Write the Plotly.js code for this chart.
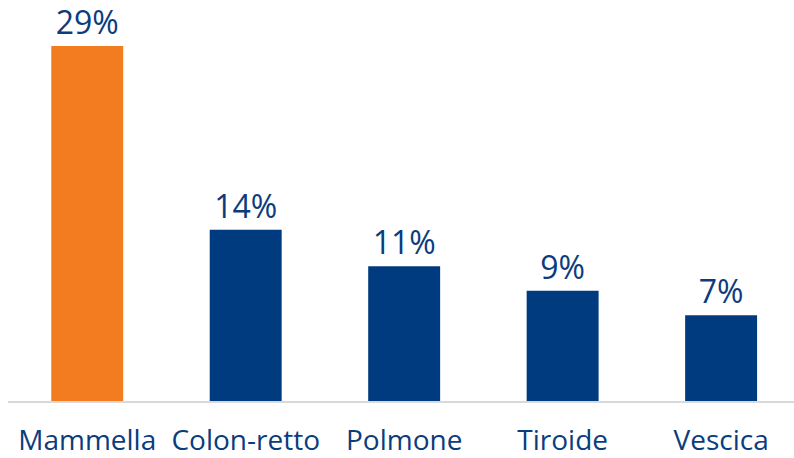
<!DOCTYPE html>
<html>
<head>
<meta charset="utf-8">
<script src="https://cdn.plot.ly/plotly-3.0.1.min.js"></script>
<style>html,body{margin:0;padding:0;background:#fff;}#chart{width:794px;height:458px;}</style>
</head>
<body>
<div id="chart"></div>
<script>
const categories = ["Mammella", "Colon-retto", "Polmone", "Tiroide", "Vescica"];
const values = [29, 14, 11, 9, 7];
const barColors = ["#F47C20", "#003B7F", "#003B7F", "#003B7F", "#003B7F"];

const trace = {
  type: "bar",
  x: categories,
  y: values,
  marker: {color: barColors},
  width: 0.454,
  text: values.map(v => v + "%"),
  textposition: "outside",
  cliponaxis: false,
  textfont: {family: "Open Sans, sans-serif", size: 32, color: "#0B3C7D"},
  hoverinfo: "none"
};

const layout = {
  width: 794, height: 458,
  margin: {l: 8, r: 0, t: 0, b: 57},
  paper_bgcolor: "#fff", plot_bgcolor: "#fff",
  showlegend: false,
  bargap: 0.5,
  xaxis: {
    type: "category",
    range: [-0.5, 4.46],
    showline: true, linecolor: "#D9D9D9", linewidth: 2,
    ticks: "", showgrid: false, zeroline: false,
    ticklabelstandoff: 13,
    tickfont: {family: "Open Sans, sans-serif", size: 28, color: "#0B3C7D"}
  },
  yaxis: {
    range: [0, 32.76],
    visible: false, showgrid: false, zeroline: false
  }
};

Plotly.newPlot("chart", [trace], layout, {staticPlot: true, displayModeBar: false});
</script>
</body>
</html>
